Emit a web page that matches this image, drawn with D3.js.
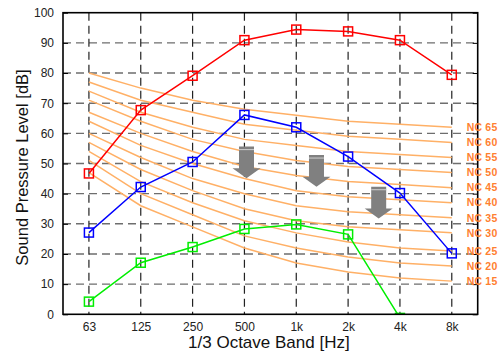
<!DOCTYPE html>
<meta charset="utf-8">
<style>
    body { margin: 0; background: white; }
    svg { display: block; font-family: "Liberation Sans", Arial, sans-serif; }
</style>
<svg width="502" height="354"></svg>
<script src="https://d3js.org/d3.v7.min.js"></script>
<script>
    // octave bands
    var bands = ["63", "125", "250", "500", "1k", "2k", "4k", "8k"];
    var yTicks = [0, 10, 20, 30, 40, 50, 60, 70, 80, 90, 100];

    // measured spectra (dB)
    var redLevels = [46.7, 67.7, 79.1, 90.9, 94.4, 93.8, 90.9, 79.4];
    var blueLevels = [27.1, 42.2, 50.5, 66.1, 62.0, 52.3, 40.2, 20.2];
    var greenLevels = [4.2, 17.1, 22.3, 28.3, 29.8, 26.5, -1.2];

    // NC curves
    var ncNames = ["NC 15", "NC 20", "NC 25", "NC 30", "NC 35", "NC 40", "NC 45", "NC 50", "NC 55", "NC 60", "NC 65"];
    var ncLevels = [
        [47, 36, 29, 22, 17, 14, 12, 11],
        [51, 40, 33, 26, 22, 19, 17, 16],
        [54, 44, 37, 31, 27, 24, 22, 21],
        [57, 48, 41, 35, 31, 29, 28, 27],
        [60, 52, 45, 40, 36, 34, 33, 32],
        [64, 56, 50, 45, 41, 39, 38, 37],
        [67, 60, 54, 49, 46, 44, 43, 42],
        [71, 64, 58, 54, 51, 49, 48, 47],
        [74, 67, 62, 58, 56, 54, 53, 52],
        [77, 71, 67, 63, 61, 59, 58, 57],
        [80, 75, 71, 68, 66, 64, 63, 62]
    ];

    // down arrows: band index (fractional), top level, tip level
    var arrowPos = [3.04, 4.39, 5.59];
    var arrowTop = [55.6, 52.8, 42.3];
    var arrowTip = [45.1, 42.3, 31.8];

    var svg = d3.select("svg"),
        width = +svg.attr("width"),
        height = +svg.attr("height"),
        margin = {top: 12.7, right: 24.3, bottom: 39.7, left: 63};

    var x = d3.scalePoint()
        .domain(bands)
        .range([margin.left, width - margin.right])
        .padding(0.5);

    var y = d3.scaleLinear()
        .domain([0, 100])
        .range([height - margin.bottom, margin.top]);

    var xi = function(i) { return x(bands[0]) + i * x.step(); };

    svg.append("clipPath").attr("id", "plot")
        .append("rect")
        .attr("x", margin.left).attr("y", margin.top)
        .attr("width", width - margin.left - margin.right)
        .attr("height", height - margin.top - margin.bottom);

    // grid
    svg.append("g").selectAll("line")
        .data(yTicks.slice(1, -1))
        .enter().append("line")
        .attr("x1", margin.left).attr("x2", width - margin.right)
        .attr("y1", function(d) { return y(d); })
        .attr("y2", function(d) { return y(d); })
        .style("stroke", "#6e6e6e")
        .style("stroke-width", 1.4)
        .style("stroke-dasharray", "8,5");

    svg.append("g").selectAll("line")
        .data(bands)
        .enter().append("line")
        .attr("x1", function(d) { return x(d); })
        .attr("x2", function(d) { return x(d); })
        .attr("y1", margin.top).attr("y2", height - margin.bottom)
        .style("stroke", "#222")
        .style("stroke-width", 1.2)
        .style("stroke-dasharray", "8,5");

    // NC curves
    var line = d3.line()
        .x(function(d, i) { return x(bands[i]); })
        .y(function(d) { return y(d); });

    svg.append("g").selectAll("path")
        .data(ncLevels)
        .enter().append("path")
        .attr("d", line)
        .style("fill", "none")
        .style("stroke", "#ffb066")
        .style("stroke-width", 1.5);

    // arrows
    var ag = svg.append("g");
    arrowPos.forEach(function(p, i) {
        var cx = xi(p), t = y(arrowTop[i]), b = y(arrowTip[i]), hs = b - 10;
        ag.append("path")
            .attr("d", "M" + (cx - 7.5) + "," + t + "H" + (cx + 7.5) + "V" + hs +
                "H" + (cx + 14) + "L" + cx + "," + b + "L" + (cx - 14) + "," + hs +
                "H" + (cx - 7.5) + "Z")
            .style("fill", "#808080");
        ag.append("line")
            .attr("x1", cx - 7.5).attr("x2", cx + 7.5)
            .attr("y1", t + 3).attr("y2", t + 3)
            .style("stroke", "#d0d0d0")
            .style("stroke-width", 1);
    });

    // spectra
    var series = [
        {values: redLevels, color: "#ff0000"},
        {values: blueLevels, color: "#0000ff"},
        {values: greenLevels, color: "#00ee00"}
    ];

    var sg = svg.append("g").attr("clip-path", "url(#plot)");
    series.forEach(function(s) {
        sg.append("path")
            .attr("d", line(s.values))
            .style("fill", "none")
            .style("stroke", s.color)
            .style("stroke-width", 1.5);
        sg.selectAll(null)
            .data(s.values)
            .enter().append("rect")
            .attr("x", function(d, i) { return x(bands[i]) - 4.5; })
            .attr("y", function(d) { return y(d) - 4.5; })
            .attr("width", 9).attr("height", 9)
            .style("fill", "none")
            .style("stroke", s.color)
            .style("stroke-width", 1.5);
    });

    // frame and ticks
    svg.append("rect")
        .attr("x", margin.left).attr("y", margin.top)
        .attr("width", width - margin.left - margin.right)
        .attr("height", height - margin.top - margin.bottom)
        .style("fill", "none")
        .style("stroke", "#000")
        .style("stroke-width", 1.6);

    var yAxis = svg.append("g")
        .attr("transform", "translate(" + margin.left + ",0)")
        .call(d3.axisLeft(y).tickValues(yTicks).tickSize(-5).tickPadding(9));
    yAxis.select(".domain").remove();

    svg.append("g")
        .attr("transform", "translate(" + (width - margin.right) + ",0)")
        .call(d3.axisRight(y).tickValues(yTicks).tickSize(-5).tickFormat(""))
        .select(".domain").remove();

    var xAxis = svg.append("g")
        .attr("transform", "translate(0," + (height - margin.bottom) + ")")
        .call(d3.axisBottom(x).tickSize(0).tickPadding(8));
    xAxis.select(".domain").remove();

    svg.selectAll(".tick text")
        .style("font-size", "12px")
        .style("font-family", "Liberation Sans, Arial, sans-serif")
        .style("fill", "#222");

    // NC labels
    svg.append("g").selectAll("text")
        .data(ncNames)
        .enter().append("text")
        .attr("x", width - margin.right - 11)
        .attr("y", function(d, i) { return y(ncLevels[i][7]); })
        .attr("dy", "0.36em")
        .text(function(d) { return d; })
        .style("font-size", "10.5px")
        .style("font-weight", "bold")
        .style("letter-spacing", "0.2px")
        .style("fill", "#ff8030");

    // axis titles
    svg.append("text")
        .attr("x", (margin.left + width - margin.right) / 2 - 1.5)
        .attr("y", height - 6)
        .attr("text-anchor", "middle")
        .style("font-size", "17px")
        .style("fill", "#111")
        .text("1/3 Octave Band [Hz]");

    svg.append("text")
        .attr("transform", "translate(28," + ((margin.top + height - margin.bottom) / 2 + 4) + ") rotate(-90)")
        .attr("text-anchor", "middle")
        .style("font-size", "16.5px")
        .style("fill", "#111")
        .text("Sound Pressure Level [dB]");
</script>
